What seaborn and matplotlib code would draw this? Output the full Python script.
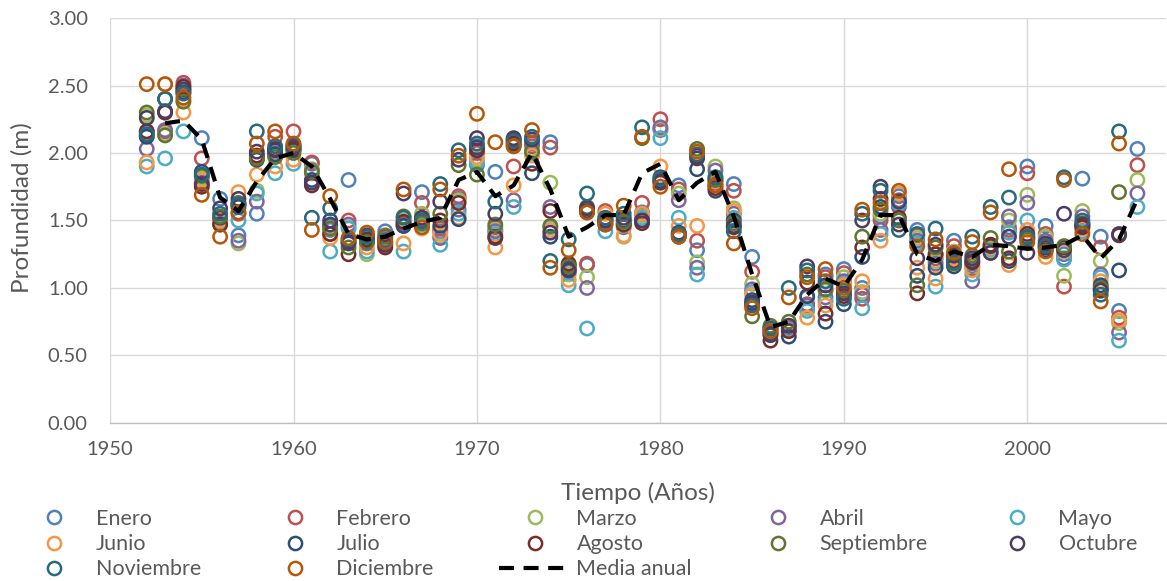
import numpy as np
import pandas as pd
import matplotlib.pyplot as plt
from matplotlib.lines import Line2D
import seaborn as sns

# ─────────────────────────────────────────────
# DATOS
# ─────────────────────────────────────────────

ANIOS = list(range(1952, 2007))
nan = np.nan

# Profundidad mensual (m), 1952 → 2006
ENERO = [2.13, 2.30, 2.47, 2.11, 1.66, 1.39, 1.55, 2.00, 2.05, 1.92,
         1.43, 1.80, 1.36, 1.42, 1.46, 1.71, 1.42, 1.66, 1.91, 1.86,
         2.08, 2.08, 2.08, 1.15, 1.17, 1.50, 1.48, 1.56, 2.17, 1.76,
         1.28, 1.80, 1.77, 1.23, 0.70, 0.72, 0.93, 1.10, 1.14, 1.00,
         1.53, 1.68, 1.43, 1.25, 1.35, 1.18, 1.30, 1.45, 1.90, 1.46,
         1.25, 1.81, 1.38, 0.83, 2.03]
FEBRERO = [2.16, 2.16, 2.52, 1.96, 1.50, 1.55, 1.98, 2.12, 2.16, 1.93,
           1.40, 1.50, 1.38, 1.39, 1.48, 1.63, 1.44, 1.68, 2.00, 1.45,
           1.90, 2.05, 2.04, 1.17, 1.18, 1.57, 1.45, 1.63, 2.25, 1.73,
           1.35, 1.78, 1.72, 1.12, 0.68, 0.70, 0.88, 1.08, 1.11, 0.92,
           1.50, 1.65, 1.39, 1.22, 1.31, 1.16, 1.32, 1.43, 1.85, 1.40,
           1.01, 1.47, 1.30, 0.78, 1.91]
MARZO = [2.28, 2.14, 2.39, 1.82, 1.47, 1.33, 1.72, 1.98, 2.02, 1.88,
         1.44, 1.45, 1.25, 1.37, 1.50, 1.55, 1.38, 1.65, 1.95, 1.43,
         2.06, 2.03, 1.78, 1.10, 1.08, 1.49, 1.38, 1.54, 2.18, 1.70,
         1.19, 1.90, 1.59, 1.03, 0.71, 0.71, 0.85, 0.98, 1.08, 0.97,
         1.55, 1.62, 1.37, 1.20, 1.27, 1.15, 1.28, 1.50, 1.69, 1.38,
         1.09, 1.57, 1.20, 0.74, 1.80]
ABRIL = [2.03, 2.17, 2.50, 1.78, 1.48, 1.35, 1.64, 2.02, 2.04, 1.87,
         1.46, 1.47, 1.33, 1.36, 1.47, 1.52, 1.37, 1.58, 2.05, 1.42,
         1.65, 2.07, 1.60, 1.12, 1.00, 1.48, 1.47, 1.55, 2.19, 1.65,
         1.15, 1.87, 1.55, 0.99, 0.69, 0.70, 0.87, 0.93, 1.05, 0.95,
         1.43, 1.60, 1.35, 1.18, 1.25, 1.05, 1.26, 1.53, 1.63, 1.35,
         1.22, 1.53, 1.10, 0.67, 1.70]
MAYO = [1.90, 1.96, 2.16, 1.80, 1.49, 1.50, 1.70, 1.85, 1.92, 1.85,
        1.27, 1.44, 1.27, 1.33, 1.27, 1.47, 1.32, 1.55, 1.93, 1.40,
        1.60, 2.00, 1.45, 1.02, 0.70, 1.42, 1.46, 1.52, 2.11, 1.52,
        1.10, 1.82, 1.52, 0.97, 0.67, 0.69, 0.83, 0.90, 1.03, 0.85,
        1.40, 1.63, 1.33, 1.01, 1.23, 1.10, 1.29, 1.41, 1.50, 1.30,
        1.21, 1.42, 1.08, 0.61, 1.60]
JUNIO = [1.93, 2.51, 2.30, 1.80, 1.50, 1.71, 1.84, 1.90, 1.95, 1.86,
         1.37, 1.35, 1.30, 1.31, 1.33, 1.44, 1.40, 1.52, 1.97, 1.30,
         1.76, 1.98, 1.43, 1.06, 1.58, 1.55, 1.39, 1.55, 1.90, 1.46,
         1.46, 1.79, 1.57, 0.95, 0.68, 0.72, 0.78, 0.87, 1.02, 1.05,
         1.35, 1.70, 1.15, 1.07, 1.22, 1.13, 1.30, 1.17, 1.43, 1.23,
         1.27, 1.44, 1.05, 0.76, nan]
JULIO = [2.12, 2.40, 2.47, 1.86, 1.52, 1.60, 1.95, 1.99, 2.02, 1.80,
         1.47, 1.33, 1.35, 1.34, 1.46, 1.50, 1.46, 1.51, 2.04, 1.37,
         2.10, 1.85, 1.38, 1.14, 1.57, 1.47, 1.50, 1.50, 1.82, 1.40,
         1.88, 1.72, 1.50, 0.91, 0.65, 0.64, 0.94, 0.75, 0.88, 1.23,
         1.60, 1.64, 1.09, 1.15, 1.16, 1.20, 1.31, 1.20, 1.37, 1.28,
         1.28, 1.46, 1.02, 1.13, nan]
AGOSTO = [2.16, 2.30, 2.49, 1.75, 1.47, 1.62, 1.98, 2.03, 2.03, 1.76,
          1.40, 1.25, 1.36, 1.30, 1.49, 1.49, 1.50, 1.63, 2.02, 1.38,
          2.07, 1.92, 1.57, 1.18, 1.56, 1.50, 1.47, 1.48, 1.78, 1.38,
          1.98, 1.74, 1.45, 0.88, 0.61, 0.68, 1.04, 0.81, 0.94, 1.30,
          1.66, 1.52, 0.96, 1.25, 1.20, 1.19, 1.32, 1.22, 1.40, 1.30,
          1.30, 1.45, 0.99, 1.39, nan]
SEPTIEMBRE = [2.30, 2.13, 2.38, 1.83, 1.53, 1.63, 1.96, 1.97, 2.00, 1.86,
              1.44, 1.30, 1.34, 1.38, 1.53, 1.48, 1.55, 1.91, 1.84, 1.47,
              2.05, 2.01, 1.46, 1.16, 1.60, 1.52, 1.49, 2.11, 1.80, 1.39,
              2.03, 1.80, 1.48, 0.79, 0.72, 0.75, 1.10, 0.99, 0.98, 1.38,
              1.58, 1.50, 1.02, 1.30, 1.18, 1.24, 1.37, 1.27, 1.36, 1.32,
              1.31, 1.48, 1.00, 1.71, nan]
OCTUBRE = [2.26, 2.31, 2.45, 1.77, 1.59, 1.66, 2.01, 2.02, 2.05, 1.78,
           1.50, 1.34, 1.39, 1.32, 1.70, 1.52, 1.64, 1.95, 2.11, 1.55,
           2.11, 2.10, 1.41, 1.13, 1.59, 1.50, 1.52, 1.50, 1.79, 1.41,
           1.96, 1.76, 1.46, 0.89, 0.66, 0.72, 1.16, 1.02, 0.96, 1.50,
           1.75, 1.47, 1.22, 1.32, 1.24, 1.22, 1.26, 1.38, 1.26, 1.33,
           1.55, 1.47, 0.98, 1.40, nan]
NOVIEMBRE = [2.14, 2.40, 2.44, 1.84, 1.55, 1.62, 2.16, 2.05, 2.06, 1.52,
             1.59, 1.36, 1.38, 1.35, 1.52, 1.50, 1.77, 2.02, 2.07, 1.64,
             2.09, 2.12, 1.20, 1.36, 1.70, 1.52, 1.55, 2.19, 1.81, 1.40,
             1.99, 1.82, 1.42, 0.87, 0.70, 1.00, 1.13, 1.05, 0.92, 1.55,
             1.72, 1.43, 1.40, 1.44, 1.19, 1.38, 1.60, 1.67, 1.38, 1.31,
             1.82, 1.50, 0.95, 2.16, nan]
DICIEMBRE = [2.51, 2.51, 2.41, 1.69, 1.38, 1.56, 2.07, 2.16, 2.07, 1.43,
             1.68, 1.37, 1.41, 1.34, 1.73, 1.45, 1.73, 1.98, 2.29, 2.08,
             2.05, 2.17, 1.15, 1.28, 1.56, 1.47, 1.61, 2.12, 1.75, 1.38,
             2.01, 1.76, 1.33, 0.85, 0.68, 0.93, 1.08, 1.14, 1.00, 1.58,
             1.63, 1.72, 1.31, 1.36, 1.26, 1.34, 1.56, 1.88, 1.34, 1.27,
             1.80, 1.40, 0.90, 2.07, nan]

# Media anual (línea discontinua), 1953 → 2006
ANIOS_MEDIA = list(range(1953, 2007))
MEDIA_ANUAL = [2.22, 2.24, 2.10, 1.67, 1.57, 1.79, 1.96, 2.00, 1.90, 1.66,
               1.40, 1.36, 1.38, 1.44, 1.49, 1.52, 1.80, 1.86, 1.68, 1.76,
               2.00, 1.73, 1.38, 1.45, 1.54, 1.54, 1.85, 1.92, 1.65, 1.78,
               1.86, 1.53, 1.10, 0.71, 0.75, 0.95, 1.07, 1.01, 1.21, 1.54,
               1.54, 1.25, 1.20, 1.27, 1.23, 1.32, 1.31, 1.29, 1.30, 1.32,
               1.39, 1.22, 1.36, 1.66]

MESES = ["Enero", "Febrero", "Marzo", "Abril", "Mayo", "Junio", "Julio",
         "Agosto", "Septiembre", "Octubre", "Noviembre", "Diciembre"]
SERIES = [ENERO, FEBRERO, MARZO, ABRIL, MAYO, JUNIO, JULIO, AGOSTO,
          SEPTIEMBRE, OCTUBRE, NOVIEMBRE, DICIEMBRE]

# ─────────────────────────────────────────────
# ESTILO
# ─────────────────────────────────────────────

COLORES = ["#4F81BD", "#C0504D", "#9BBB59", "#8064A2", "#4BACC6", "#F79646",
           "#2C4D75", "#772C2A", "#5F7530", "#4D3B62", "#276A7C", "#B65708"]
PALETA = dict(zip(MESES, COLORES))
GRIS_TEXTO = "#595959"

sns.set_style("white")
plt.rcParams["font.family"] = ["Lato", "DejaVu Sans"]
plt.rcParams["text.color"] = GRIS_TEXTO
plt.rcParams["axes.labelcolor"] = GRIS_TEXTO
plt.rcParams["xtick.color"] = GRIS_TEXTO
plt.rcParams["ytick.color"] = GRIS_TEXTO

# tabla larga: un mes tras otro (Diciembre queda encima)
df = pd.concat(
    [pd.DataFrame({"anio": ANIOS, "prof": vals, "mes": mes})
     for mes, vals in zip(MESES, SERIES)],
    ignore_index=True,
).dropna()

fig = plt.figure(figsize=(11.67, 5.81), dpi=100)
ax = fig.add_axes([0.0943, 0.272, 0.9047, 0.697])

sns.scatterplot(data=df, x="anio", y="prof", hue="mes", palette=PALETA,
                s=92, linewidth=1.8, legend=False, ax=ax, zorder=3)
coll = ax.collections[0]
coll.set_edgecolors(coll.get_facecolors())
coll.set_facecolors("none")

DASH = (0, (3.6, 2.3))
sns.lineplot(x=ANIOS_MEDIA, y=MEDIA_ANUAL, color="black", linewidth=3,
             linestyle=DASH, ax=ax, zorder=4)

ax.set_xlim(1950, 2007.55)
ax.set_ylim(0, 3)
ax.set_xticks(range(1950, 2001, 10))
ax.set_yticks(np.arange(0, 3.01, 0.5))
ax.set_yticklabels([f"{v:.2f}" for v in np.arange(0, 3.01, 0.5)])
ax.grid(True, color="#D9D9D9", linewidth=1.0)
ax.set_axisbelow(True)
for lado in ["top", "right", "left"]:
    ax.spines[lado].set_visible(False)
ax.spines["bottom"].set_color("#BFBFBF")
ax.spines["bottom"].set_linewidth(1.0)
ax.tick_params(axis="both", length=0, labelsize=14.5)
ax.tick_params(axis="y", pad=16)
ax.tick_params(axis="x", pad=13)

ax.set_xlabel("Tiempo (Años)", fontsize=17.5)
ax.set_ylabel("Profundidad (m)", fontsize=17.5)
ax.xaxis.set_label_coords(0.5, -0.146)
ax.yaxis.set_label_coords(-0.073, 0.531)

# Leyenda: 5 columnas colocadas como en Excel
def h_mes(mes):
    return Line2D([], [], linestyle="none", marker="o", markersize=9.5,
                  markerfacecolor="none", markeredgewidth=1.8,
                  markeredgecolor=PALETA[mes], label=mes)

h_media = Line2D([], [], color="black", linewidth=3, linestyle=DASH,
                 label="Media anual")

columnas = [
    [h_mes("Enero"), h_mes("Junio"), h_mes("Noviembre")],
    [h_mes("Febrero"), h_mes("Julio"), h_mes("Diciembre")],
    [h_mes("Marzo"), h_mes("Agosto"), h_media],
    [h_mes("Abril"), h_mes("Septiembre")],
    [h_mes("Mayo"), h_mes("Octubre")],
]
x_cols = [18, 259, 499, 742, 981]
for xc, hs in zip(x_cols, columnas):
    fig.legend(handles=hs, loc="upper left",
               bbox_to_anchor=(xc / 1167, 1 - 509 / 581),
               frameon=False, fontsize=15.5, handlelength=3.35,
               handletextpad=0.25, labelspacing=0.24, borderpad=0,
               borderaxespad=0)

fig.savefig("out.png", dpi=100)
